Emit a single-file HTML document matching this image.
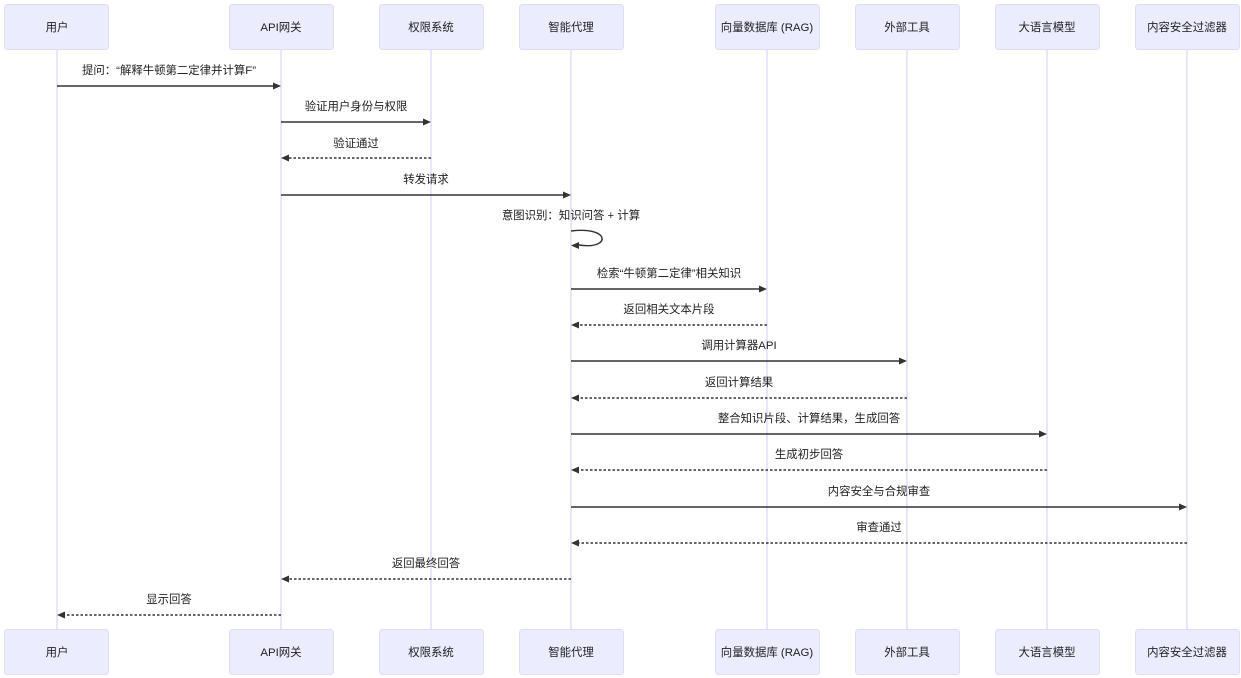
<!DOCTYPE html>
<html><head><meta charset="utf-8">
<style>
html,body{margin:0;padding:0;background:#fff;}
svg{display:block;}
text{font-family:"Liberation Sans","Noto Sans CJK SC",sans-serif;font-size:11.4px;fill:#222;}
.box{fill:#ECECFF;stroke:#e0dcf5;stroke-width:1;}
.life{stroke:#d2cdf7;stroke-width:1;}
.sol{stroke:#333;stroke-width:1.4;fill:none;}
.dot{stroke:#333;stroke-width:1.4;fill:none;stroke-dasharray:2.5,2;}
.ah{fill:#333;}
</style></head>
<body>
<svg width="1241" height="678" viewBox="0 0 1241 678" xmlns="http://www.w3.org/2000/svg">
<g class="life">
<line x1="57" y1="49" x2="57" y2="630"/>
<line x1="281" y1="49" x2="281" y2="630"/>
<line x1="431" y1="49" x2="431" y2="630"/>
<line x1="571" y1="49" x2="571" y2="630"/>
<line x1="767" y1="49" x2="767" y2="630"/>
<line x1="907" y1="49" x2="907" y2="630"/>
<line x1="1047" y1="49" x2="1047" y2="630"/>
<line x1="1187" y1="49" x2="1187" y2="630"/>
</g>
<g>
<rect class="box" x="4.5" y="4.5" width="104" height="45" rx="3"/>
<rect class="box" x="229.5" y="4.5" width="104" height="45" rx="3"/>
<rect class="box" x="379.5" y="4.5" width="104" height="45" rx="3"/>
<rect class="box" x="519.5" y="4.5" width="104" height="45" rx="3"/>
<rect class="box" x="715.5" y="4.5" width="104" height="45" rx="3"/>
<rect class="box" x="855.5" y="4.5" width="104" height="45" rx="3"/>
<rect class="box" x="995.5" y="4.5" width="104" height="45" rx="3"/>
<rect class="box" x="1135.5" y="4.5" width="104" height="45" rx="3"/>
</g>
<g text-anchor="middle">
<text x="57" y="31">用户</text>
<text x="281" y="31">API网关</text>
<text x="431" y="31">权限系统</text>
<text x="571" y="31">智能代理</text>
<text x="767" y="31">向量数据库 (RAG)</text>
<text x="907" y="31">外部工具</text>
<text x="1047" y="31">大语言模型</text>
<text x="1187" y="31">内容安全过滤器</text>
</g>
<g>
<rect class="box" x="4.5" y="629.5" width="104" height="45" rx="3"/>
<rect class="box" x="229.5" y="629.5" width="104" height="45" rx="3"/>
<rect class="box" x="379.5" y="629.5" width="104" height="45" rx="3"/>
<rect class="box" x="519.5" y="629.5" width="104" height="45" rx="3"/>
<rect class="box" x="715.5" y="629.5" width="104" height="45" rx="3"/>
<rect class="box" x="855.5" y="629.5" width="104" height="45" rx="3"/>
<rect class="box" x="995.5" y="629.5" width="104" height="45" rx="3"/>
<rect class="box" x="1135.5" y="629.5" width="104" height="45" rx="3"/>
</g>
<g text-anchor="middle">
<text x="57" y="656">用户</text>
<text x="281" y="656">API网关</text>
<text x="431" y="656">权限系统</text>
<text x="571" y="656">智能代理</text>
<text x="767" y="656">向量数据库 (RAG)</text>
<text x="907" y="656">外部工具</text>
<text x="1047" y="656">大语言模型</text>
<text x="1187" y="656">内容安全过滤器</text>
</g>

<g text-anchor="middle">
<text x="169" y="74">提问：“解释牛顿第二定律并计算F”</text>
<text x="356" y="110">验证用户身份与权限</text>
<text x="356" y="147">验证通过</text>
<text x="426" y="183">转发请求</text>
<text x="571" y="219">意图识别：知识问答 + 计算</text>
<text x="669" y="277">检索“牛顿第二定律”相关知识</text>
<text x="669" y="313">返回相关文本片段</text>
<text x="739" y="349">调用计算器API</text>
<text x="739" y="386">返回计算结果</text>
<text x="809" y="422">整合知识片段、计算结果，生成回答</text>
<text x="809" y="458">生成初步回答</text>
<text x="879" y="495">内容安全与合规审查</text>
<text x="879" y="531">审查通过</text>
<text x="426" y="567">返回最终回答</text>
<text x="169" y="603">显示回答</text>
</g>

<line class="sol" x1="57" y1="86" x2="274" y2="86"/>
<polygon class="ah" points="281,86 273,82.5 273,89.5"/>

<line class="sol" x1="281" y1="122" x2="424" y2="122"/>
<polygon class="ah" points="431,122 423,118.5 423,125.5"/>

<line class="dot" x1="431" y1="158" x2="288" y2="158"/>
<polygon class="ah" points="281,158 289,154.5 289,161.5"/>

<line class="sol" x1="281" y1="195" x2="564" y2="195"/>
<polygon class="ah" points="571,195 563,191.5 563,198.5"/>

<path class="sol" d="M571,231 C611,226 611,250 579,245"/>
<polygon class="ah" points="571,245.5 579,242 579,249"/>

<line class="sol" x1="571" y1="289" x2="760" y2="289"/>
<polygon class="ah" points="767,289 759,285.5 759,292.5"/>

<line class="dot" x1="767" y1="325" x2="578" y2="325"/>
<polygon class="ah" points="571,325 579,321.5 579,328.5"/>

<line class="sol" x1="571" y1="361" x2="900" y2="361"/>
<polygon class="ah" points="907,361 899,357.5 899,364.5"/>

<line class="dot" x1="907" y1="398" x2="578" y2="398"/>
<polygon class="ah" points="571,398 579,394.5 579,401.5"/>

<line class="sol" x1="571" y1="434" x2="1040" y2="434"/>
<polygon class="ah" points="1047,434 1039,430.5 1039,437.5"/>

<line class="dot" x1="1047" y1="470" x2="578" y2="470"/>
<polygon class="ah" points="571,470 579,466.5 579,473.5"/>

<line class="sol" x1="571" y1="507" x2="1180" y2="507"/>
<polygon class="ah" points="1187,507 1179,503.5 1179,510.5"/>

<line class="dot" x1="1187" y1="543" x2="578" y2="543"/>
<polygon class="ah" points="571,543 579,539.5 579,546.5"/>

<line class="dot" x1="571" y1="579" x2="288" y2="579"/>
<polygon class="ah" points="281,579 289,575.5 289,582.5"/>

<line class="dot" x1="281" y1="615" x2="64" y2="615"/>
<polygon class="ah" points="57,615 65,611.5 65,618.5"/>
</svg>
</body></html>
